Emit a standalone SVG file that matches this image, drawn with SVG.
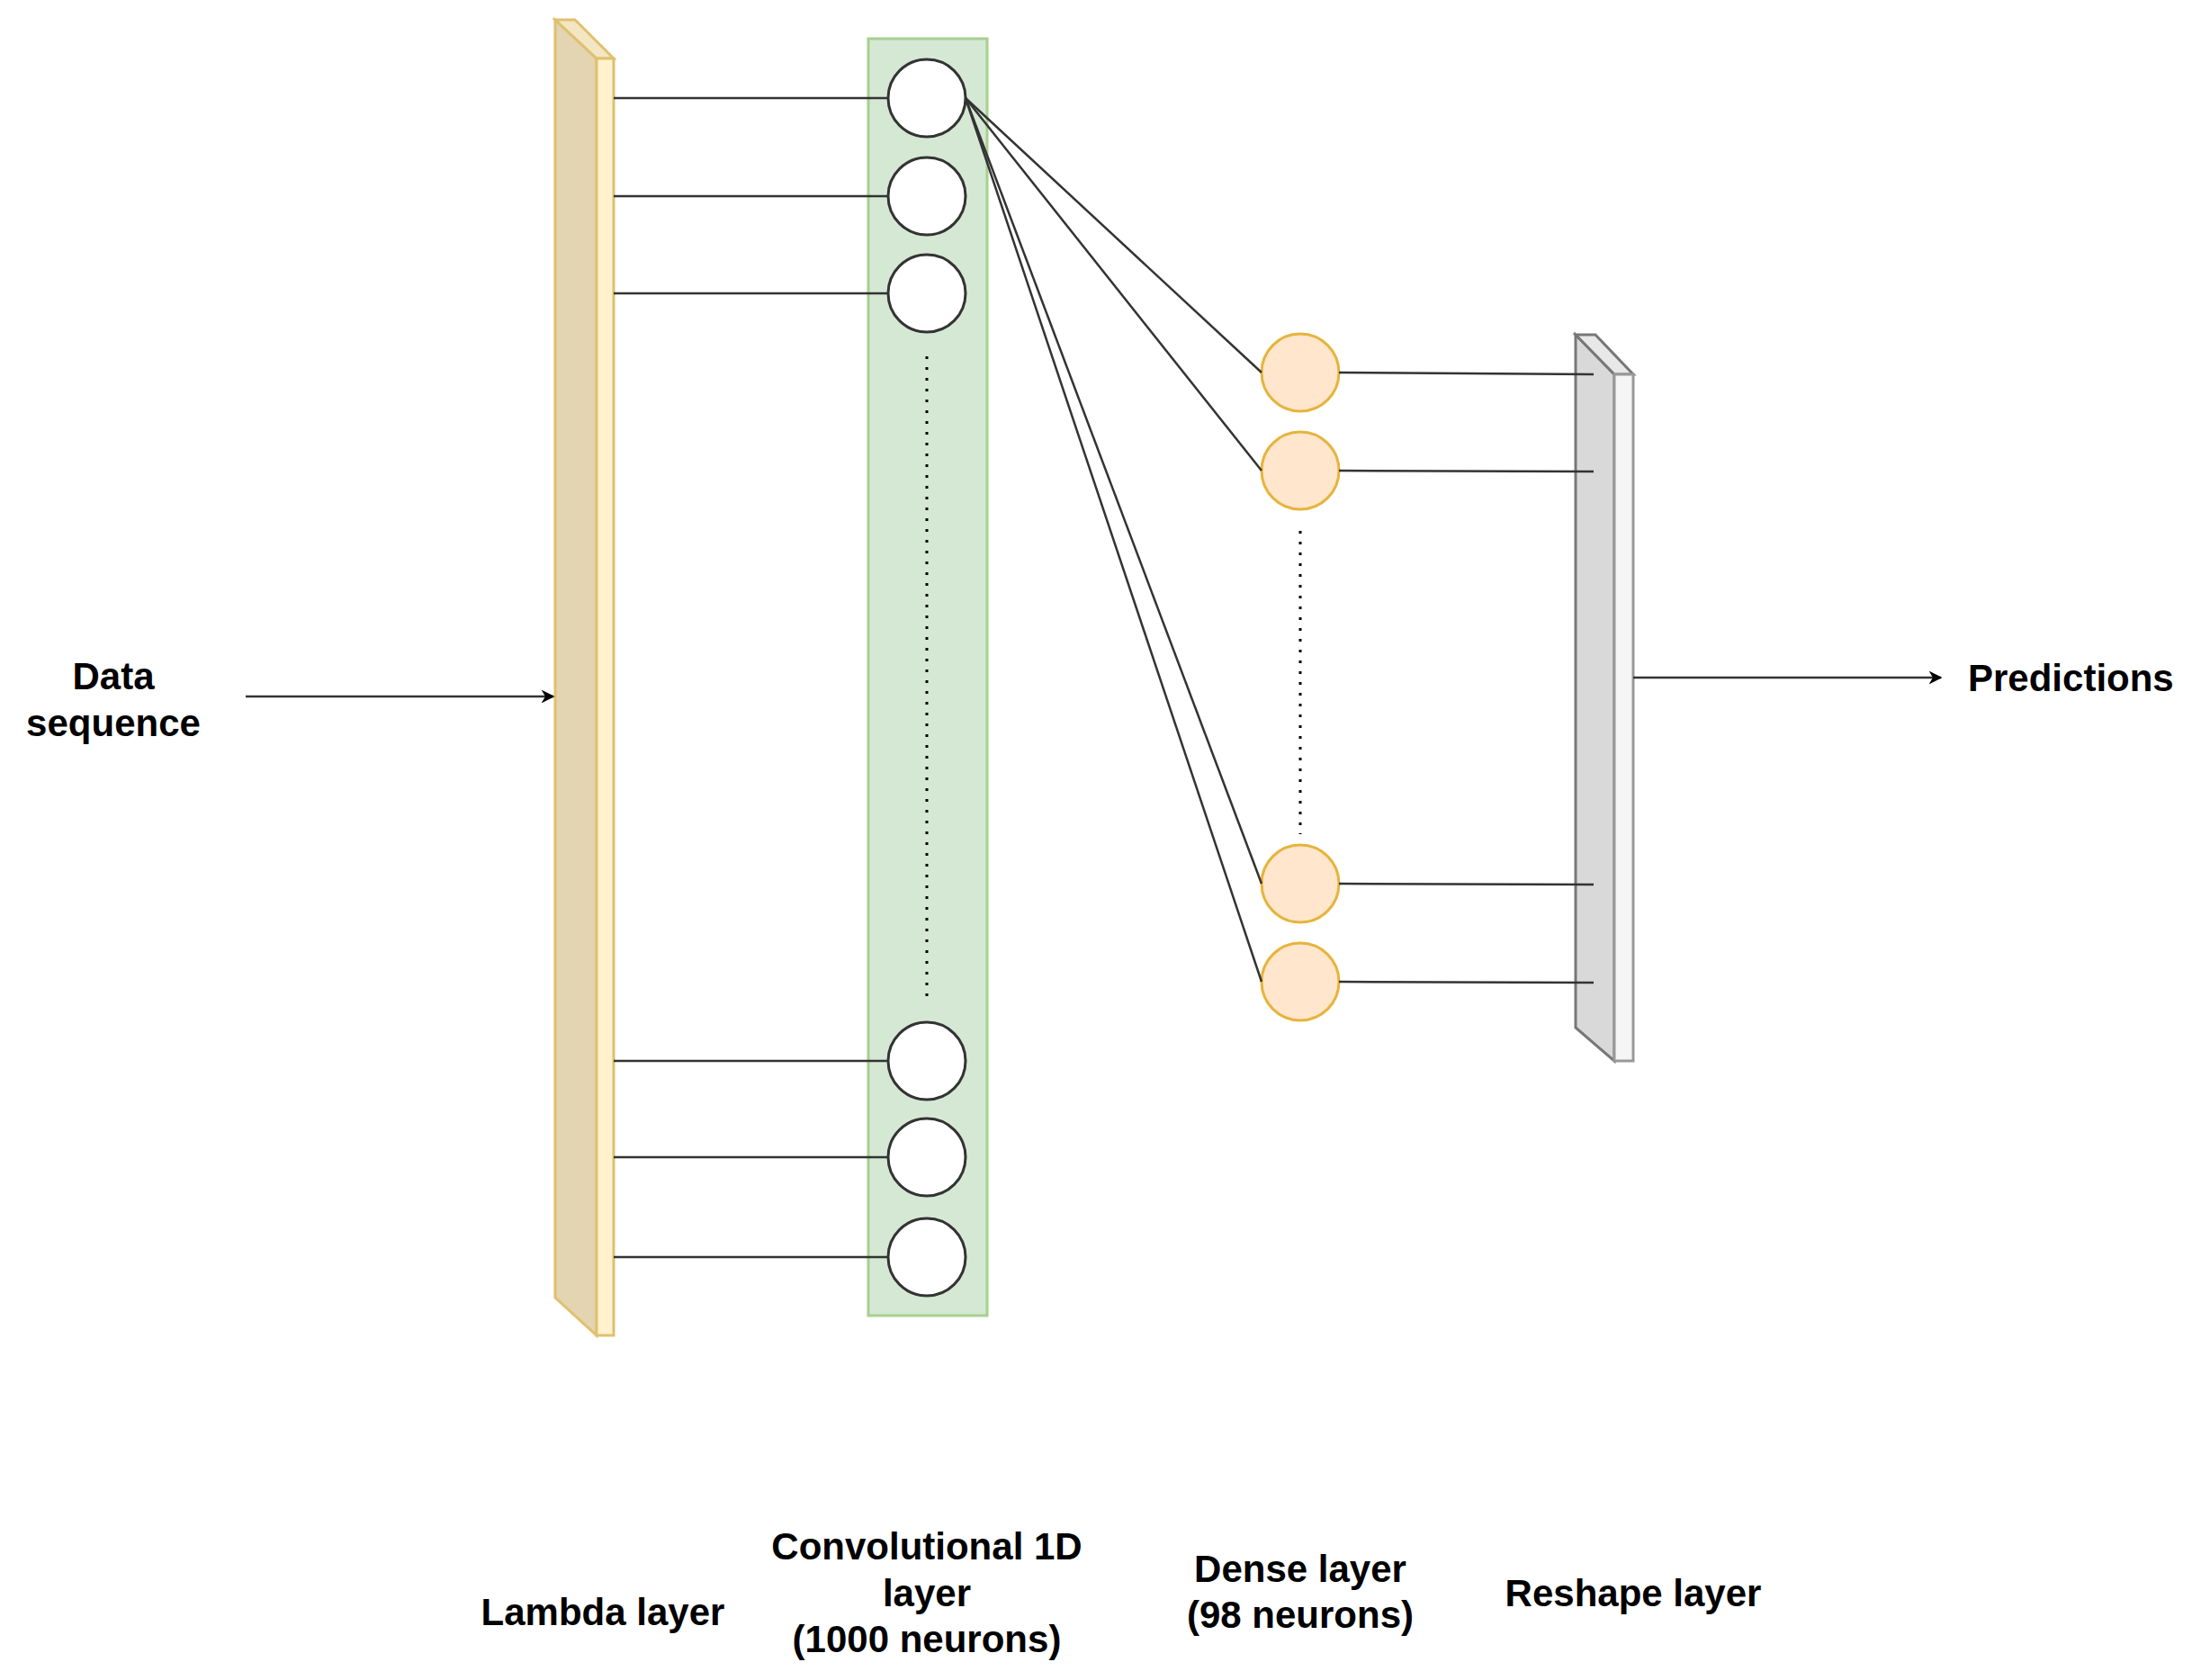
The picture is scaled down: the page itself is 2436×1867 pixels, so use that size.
<svg xmlns="http://www.w3.org/2000/svg" width="2436" height="1867" viewBox="0 0 2436 1867">
<style>
text{font-family:"Liberation Sans",Arial,sans-serif;font-weight:bold;font-size:42px;fill:#000;text-anchor:middle}
.c{stroke:#333;stroke-width:2.5;fill:none}
.n{fill:#fff;stroke:#333;stroke-width:3}
.d{fill:#ffe6cc;stroke:#e6b43c;stroke-width:3}
.dot{stroke:#000;stroke-width:3;stroke-dasharray:3 9;fill:none}
</style>
<defs><marker id="a" viewBox="0 0 10 10" refX="9" refY="5" markerWidth="6" markerHeight="6" orient="auto"><path d="M0,0L10,5L0,10L3,5z" fill="#000"/></marker></defs>
<rect width="2436" height="1867" fill="#fff"/>
<g id="lambda">
<polygon points="617,22 663,65 663,1484 617,1442" fill="#e3d5b1" stroke="#e0c070" stroke-width="3"/>
<polygon points="617,22 639,22 682,65 663,65" fill="#f3e6c2" stroke="#e0c070" stroke-width="3"/>
<rect x="663" y="65" width="19" height="1419" fill="#fff2cc" stroke="#e0c070" stroke-width="3"/>
</g>
<g id="conv">
<rect x="965" y="43" width="132" height="1419" fill="#d5e8d4" stroke="#a6d08e" stroke-width="3"/>
<line class="dot" x1="1030" y1="396" x2="1030" y2="1115"/>
<circle class="n" cx="1030" cy="109" r="43"/>
<circle class="n" cx="1030" cy="218" r="43"/>
<circle class="n" cx="1030" cy="326" r="43"/>
<circle class="n" cx="1030" cy="1179" r="43"/>
<circle class="n" cx="1030" cy="1286" r="43"/>
<circle class="n" cx="1030" cy="1397" r="43"/>
</g>
<g id="dense">
<line class="dot" x1="1445" y1="590" x2="1445" y2="927"/>
<circle class="d" cx="1445" cy="414" r="43"/>
<circle class="d" cx="1445" cy="523" r="43"/>
<circle class="d" cx="1445" cy="982" r="43"/>
<circle class="d" cx="1445" cy="1091" r="43"/>
</g>
<g id="reshape">
<polygon points="1751,372 1794,416 1794,1179 1751,1142" fill="#d9d9d9" stroke="#777" stroke-width="3"/>
<polygon points="1751,372 1773,372 1815,416 1794,416" fill="#e8e8e8" stroke="#777" stroke-width="3"/>
<rect x="1794" y="416" width="21" height="763" fill="#f5f5f5" stroke="#999" stroke-width="3"/>
</g>
<g id="connectors">
<line class="c" x1="682" y1="109" x2="987" y2="109"/>
<line class="c" x1="682" y1="218" x2="987" y2="218"/>
<line class="c" x1="682" y1="326" x2="987" y2="326"/>
<line class="c" x1="682" y1="1179" x2="987" y2="1179"/>
<line class="c" x1="682" y1="1286" x2="987" y2="1286"/>
<line class="c" x1="682" y1="1397" x2="987" y2="1397"/>
<line class="c" x1="1073" y1="109" x2="1402" y2="414"/>
<line class="c" x1="1073" y1="109" x2="1402" y2="523"/>
<line class="c" x1="1073" y1="109" x2="1402" y2="982"/>
<line class="c" x1="1073" y1="109" x2="1402" y2="1091"/>
<line class="c" x1="1488" y1="414" x2="1771" y2="416"/>
<line class="c" x1="1488" y1="523" x2="1771" y2="524"/>
<line class="c" x1="1488" y1="982" x2="1771" y2="983"/>
<line class="c" x1="1488" y1="1091" x2="1771" y2="1092"/>
<line class="c" x1="273" y1="774" x2="615" y2="774" marker-end="url(#a)"/>
<line class="c" x1="1815" y1="753" x2="2157" y2="753" marker-end="url(#a)"/>
</g>
<g id="labels">
<text x="126" y="766">Data</text>
<text x="126" y="818">sequence</text>
<text x="2187" y="768" style="text-anchor:start">Predictions</text>
<text x="670" y="1806">Lambda layer</text>
<text x="1030" y="1733">Convolutional 1D</text>
<text x="1030" y="1785">layer</text>
<text x="1030" y="1836">(1000 neurons)</text>
<text x="1445" y="1758">Dense layer</text>
<text x="1445" y="1809">(98 neurons)</text>
<text x="1815" y="1785">Reshape layer</text>
</g>
</svg>
